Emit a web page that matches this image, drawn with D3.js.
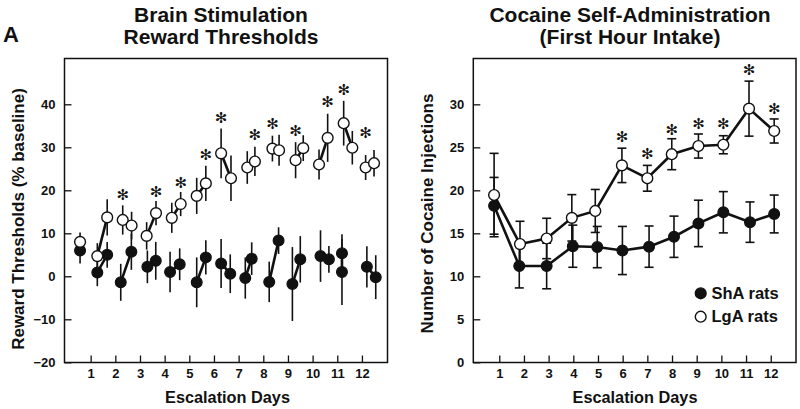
<!DOCTYPE html>
<html>
<head>
<meta charset="utf-8">
<script src="https://cdn.jsdelivr.net/npm/d3@7"></script>
<style>
  html, body { margin: 0; padding: 0; background: #fff; }
  svg { display: block; font-family: "Liberation Sans", Arial, Helvetica, sans-serif; }
</style>
</head>
<body>
<svg id="chart" width="800" height="409"></svg>
<script>
// ---------------- DATA ----------------
const dayTicks = [1,2,3,4,5,6,7,8,9,10,11,12];

// Left panel: Brain stimulation reward thresholds (% baseline)
const leftShaX   = [0.57,1.27,1.67,2.22,2.65,3.30,3.64,4.22,4.61,5.30,5.67,6.29,6.66,7.27,7.53,8.24,8.62,9.18,9.50,10.32,10.66,11.19,11.19,12.20,12.56];
const leftShaY   = [6.0,0.9,5.0,-1.4,5.7,2.2,3.6,1.0,2.8,-1.4,4.4,3.0,0.6,-0.4,4.1,-1.3,8.3,-1.8,3.95,4.7,3.95,5.35,1.0,2.2,-0.2];
const leftShaErr = [3.0,3.2,3.0,4.3,4.2,3.8,4.4,4.7,3.7,5.8,4.0,5.7,4.5,4.8,3.8,4.7,3.1,8.6,5.4,6.0,3.1,4.45,7.7,4.8,5.1];
const leftLgaX   = [0.57,1.27,1.67,2.30,2.66,3.27,3.65,4.29,4.65,5.30,5.67,6.29,6.69,7.35,7.66,8.37,8.64,9.31,9.62,10.26,10.61,11.26,11.61,12.15,12.49];
const leftLgaY   = [8.0,4.7,13.7,13.1,11.8,9.4,14.7,13.6,16.8,18.7,21.6,28.6,22.8,25.3,26.7,29.7,29.3,27.0,29.8,26.0,32.2,35.6,29.9,25.3,26.3];
const leftLgaErr = [2.2,3.0,4.2,3.4,3.2,3.2,2.8,3.5,2.8,4.2,4.1,5.8,5.3,3.8,3.4,3.0,3.6,4.2,3.0,3.5,5.6,5.2,3.9,2.9,3.1];
const leftYTicks = [-20,-10,0,10,20,30,40];
const leftSigIdx = [3,6,8,10,11,14,15,17,20,21,23];
const leftSigY   = [18.9,19.8,21.9,28.2,36.9,32.9,35.6,33.8,40.6,43.5,33.5];

// Right panel: cocaine injections, first hour
const rightShaX   = [0.79,1.81,2.92,3.98,4.97,5.99,7.07,8.08,9.07,10.08,11.16,12.14];
const rightShaY   = [18.2,11.2,11.2,13.5,13.4,13.0,13.45,14.6,16.15,17.45,16.3,17.25];
const rightShaErr = [3.3,2.55,2.65,2.45,2.4,2.8,2.4,2.4,2.7,2.4,2.35,2.2];
const rightLgaX   = [0.79,1.84,2.92,3.94,4.89,5.97,7.0,7.99,9.07,10.08,11.12,12.14];
const rightLgaY   = [19.45,13.75,14.4,16.8,17.6,22.9,21.4,24.2,25.15,25.3,29.5,26.9];
const rightLgaErr = [4.85,2.65,2.35,2.7,2.5,2.0,1.5,1.8,1.4,1.05,3.2,1.4];
const rightYTicks = [0,5,10,15,20,25,30];
const rightSigIdx = [5,6,7,8,9,10,11];
const rightSigY   = [26.3,24.3,27.1,27.8,27.8,34.0,29.5];

const legendLabels = ["ShA rats","LgA rats"];

// ---------------- DRAW ----------------
const svg = d3.select("#chart");
svg.append("rect").attr("width",800).attr("height",409).attr("fill","#fff");

const INK = "#111";
const R = 5.4;

function zipPts(xs, ys, es){ return xs.map((x,i)=>({x, y: ys[i], e: es[i]})); }

function panel(cfg){
  const g = svg.append("g");
  const x = d3.scaleLinear().domain([0,13]).range(cfg.xRange);
  const y = d3.scaleLinear().domain(cfg.yDomain).range([362.3, 58.5]);

  // frame
  g.append("rect")
    .attr("x", cfg.frame[0]).attr("y", 58.5)
    .attr("width", cfg.frame[1]-cfg.frame[0]).attr("height", 362.5-58.5)
    .attr("fill","none").attr("stroke",INK).attr("stroke-width",1.5);

  // axes
  const ya = g.append("g").attr("transform",`translate(${cfg.frame[0]},0)`)
    .call(d3.axisLeft(y).tickValues(cfg.yTicks).tickSizeInner(-7).tickSizeOuter(0).tickPadding(9));
  const xa = g.append("g").attr("transform",`translate(0,362.5)`)
    .call(d3.axisBottom(x).tickValues(dayTicks).tickSizeInner(-7).tickSizeOuter(0).tickPadding(6).tickFormat(d3.format("d")));
  [ya, xa].forEach(a => {
    a.select(".domain").remove();
    a.selectAll("line").attr("stroke",INK).attr("stroke-width",1.3);
    a.selectAll("text").attr("fill",INK).style("font-size","13px").style("font-weight","bold")
      .style("font-family",'"Liberation Sans", Arial, sans-serif');
  });

  const sha = zipPts(cfg.shaX, cfg.shaY, cfg.shaErr);
  const lga = zipPts(cfg.lgaX, cfg.lgaY, cfg.lgaErr);

  // error bars
  [sha, lga].forEach(pts => {
    g.append("g").selectAll("line").data(pts).join("line")
      .attr("x1", d=>x(d.x)).attr("x2", d=>x(d.x))
      .attr("y1", d=>y(d.y+d.e)).attr("y2", d=>y(d.y-d.e))
      .attr("stroke",INK).attr("stroke-width",1.6);
    if (cfg.caps) {
      [1,-1].forEach(s => {
        g.append("g").selectAll("line").data(pts).join("line")
          .attr("x1", d=>x(d.x)-4.5).attr("x2", d=>x(d.x)+4.5)
          .attr("y1", d=>y(d.y+s*d.e)).attr("y2", d=>y(d.y+s*d.e))
          .attr("stroke",INK).attr("stroke-width",1.6);
      });
    }
  });

  // connecting lines
  const line = d3.line().x(d=>x(d.x)).y(d=>y(d.y));
  [sha, lga].forEach(pts => {
    cfg.segments(pts).forEach(seg => {
      g.append("path").attr("d", line(seg)).attr("fill","none")
        .attr("stroke",INK).attr("stroke-width",2.6);
    });
  });

  // markers
  g.append("g").selectAll("circle").data(sha).join("circle")
    .attr("cx", d=>x(d.x)).attr("cy", d=>y(d.y)).attr("r", R)
    .attr("fill",INK).attr("stroke",INK).attr("stroke-width",1.2);
  g.append("g").selectAll("circle").data(lga).join("circle")
    .attr("cx", d=>x(d.x)).attr("cy", d=>y(d.y)).attr("r", R)
    .attr("fill","#fff").attr("stroke",INK).attr("stroke-width",1.4);

  // significance asterisks
  g.append("g").selectAll("text").data(cfg.sigIdx).join("text")
    .attr("x", i=>x(lga[i].x)).attr("y", (i,k)=>y(cfg.sigY[k]))
    .attr("text-anchor","middle").attr("dy","0.36em")
    .attr("fill",INK).style("font-size","15px")
    .style("font-family",'"DejaVu Sans", sans-serif')
    .text("\u273B");

  // titles
  const t = g.append("text").attr("text-anchor","middle").attr("fill",INK)
    .style("font-size","21px").style("font-weight","bold");
  t.append("tspan").attr("x", cfg.titleX).attr("y", 22).text(cfg.title[0]);
  t.append("tspan").attr("x", cfg.titleX).attr("y", 44).text(cfg.title[1]);

  // axis titles
  g.append("text").attr("transform",`translate(${cfg.yLabelPos[0]},${cfg.yLabelPos[1]}) rotate(-90)`)
    .attr("text-anchor","middle").attr("fill",INK)
    .style("font-size","17px").style("font-weight","bold").text(cfg.yLabel);
  g.append("text").attr("x", cfg.xLabelX).attr("y", 403)
    .attr("text-anchor","middle").attr("fill",INK)
    .style("font-size","16.3px").style("font-weight","bold").text("Escalation Days");

  return {g, x, y};
}

// pair segments for left panel (baseline point alone, then consecutive pairs)
function pairSegments(pts){
  const segs = [];
  for (let i = 1; i + 1 < pts.length; i += 2) segs.push([pts[i], pts[i+1]]);
  return segs;
}

panel({
  xRange: [66, 386.6], frame: [64.5, 387.5], yDomain: [-20, 50.65], yTicks: leftYTicks,
  shaX: leftShaX, shaY: leftShaY, shaErr: leftShaErr,
  lgaX: leftLgaX, lgaY: leftLgaY, lgaErr: leftLgaErr,
  sigIdx: leftSigIdx, sigY: leftSigY, caps: false,
  segments: pairSegments,
  title: ["Brain Stimulation","Reward Thresholds"], titleX: 221,
  yLabel: "Reward Thresholds (% baseline)", yLabelPos: [24, 219],
  xLabelX: 227.5
});

const right = panel({
  xRange: [474.6, 795.4], frame: [473.3, 796], yDomain: [0, 35.33], yTicks: rightYTicks,
  shaX: rightShaX, shaY: rightShaY, shaErr: rightShaErr,
  lgaX: rightLgaX, lgaY: rightLgaY, lgaErr: rightLgaErr,
  sigIdx: rightSigIdx, sigY: rightSigY, caps: true,
  segments: pts => [pts],
  title: ["Cocaine Self-Administration","(First Hour Intake)"], titleX: 630,
  yLabel: "Number of Cocaine Injections", yLabelPos: [433, 213.5],
  xLabelX: 635
});

// panel letter
svg.append("text").attr("x", 3).attr("y", 42).attr("fill",INK)
  .style("font-size","22px").style("font-weight","bold").text("A");

// legend
const leg = svg.append("g");
legendLabels.forEach((lab, i) => {
  const cy = 293.3 + i*23.4;
  leg.append("circle").attr("cx", 700.7).attr("cy", cy).attr("r", R)
    .attr("fill", i===0 ? INK : "#fff").attr("stroke", INK).attr("stroke-width", 1.4);
  leg.append("text").attr("x", 711.5).attr("y", cy + 5.6).attr("fill", INK)
    .style("font-size","16.5px").style("font-weight","bold").text(lab);
});
</script>
</body>
</html>
